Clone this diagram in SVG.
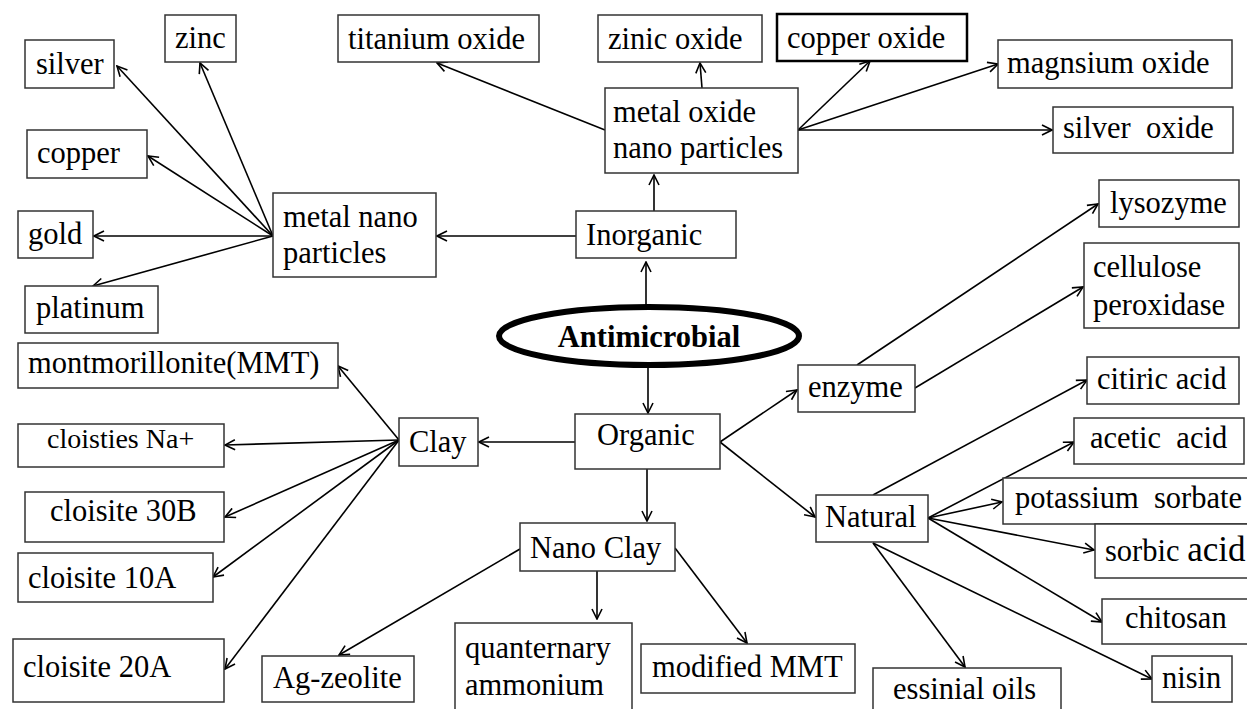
<svg xmlns="http://www.w3.org/2000/svg" width="1247" height="709" viewBox="0 0 1247 709">
<style>
.b{fill:#fff;stroke:#333;stroke-width:1.5}
.bk{fill:#fff;stroke:#000;stroke-width:2.5}
.t{font-family:"Liberation Serif","Times New Roman",serif;font-size:30.5px;fill:#000}
.c line{stroke:#000;stroke-width:1.6;marker-end:url(#ah)}
</style>
<defs>
<marker id="ah" viewBox="0 0 12 12" refX="11" refY="6" markerWidth="12" markerHeight="12" markerUnits="userSpaceOnUse" orient="auto">
<path d="M1,1 L11,6 L1,11" fill="none" stroke="#000" stroke-width="1.6"/>
</marker>
</defs>
<rect width="1247" height="709" fill="#fff"/>
<g id="connectors" class="c">
<line x1="273" y1="236" x2="117" y2="66"/>
<line x1="273" y1="236" x2="200" y2="63"/>
<line x1="273" y1="236" x2="148" y2="156"/>
<line x1="273" y1="236" x2="94" y2="236"/>
<line x1="273" y1="236" x2="93" y2="286"/>
<line x1="576" y1="236" x2="437" y2="236"/>
<line x1="654" y1="211" x2="654" y2="175"/>
<line x1="605" y1="130" x2="437" y2="63"/>
<line x1="702" y1="88" x2="700" y2="63"/>
<line x1="798" y1="130" x2="870" y2="61"/>
<line x1="798" y1="130" x2="998" y2="64"/>
<line x1="798" y1="130" x2="1052" y2="130"/>
<line x1="646" y1="305" x2="646" y2="262"/>
<line x1="648" y1="368" x2="648" y2="413"/>
<line x1="575" y1="442" x2="479" y2="442"/>
<line x1="399" y1="440" x2="338" y2="366"/>
<line x1="399" y1="440" x2="225" y2="445"/>
<line x1="399" y1="440" x2="225" y2="517"/>
<line x1="399" y1="440" x2="213" y2="577"/>
<line x1="399" y1="440" x2="225" y2="669"/>
<line x1="647" y1="469" x2="647" y2="521"/>
<line x1="520" y1="549" x2="339" y2="655"/>
<line x1="597" y1="571" x2="597" y2="619"/>
<line x1="675" y1="548" x2="747" y2="643"/>
<line x1="720" y1="442" x2="797" y2="390"/>
<line x1="720" y1="442" x2="815" y2="517"/>
<line x1="857" y1="365" x2="1098" y2="204"/>
<line x1="915" y1="388" x2="1083" y2="287"/>
<line x1="873" y1="495" x2="1087" y2="380"/>
<line x1="928" y1="518" x2="1074" y2="442"/>
<line x1="928" y1="518" x2="1002" y2="502"/>
<line x1="928" y1="518" x2="1094" y2="550"/>
<line x1="928" y1="518" x2="1102" y2="622"/>
<line x1="873" y1="543" x2="965" y2="667"/>
<line x1="873" y1="543" x2="1152" y2="679"/>
</g>
<g id="silver"><rect class="b" x="25" y="40" width="89" height="48"/><text class="t" x="36" y="74">silver</text></g>
<g id="zinc"><rect class="b" x="165" y="15" width="71" height="47"/><text class="t" x="175" y="48">zinc</text></g>
<g id="copper"><rect class="b" x="27" y="130" width="120" height="48"/><text class="t" x="37" y="163">copper</text></g>
<g id="gold"><rect class="b" x="18" y="211" width="75" height="47"/><text class="t" x="28" y="244">gold</text></g>
<g id="platinum"><rect class="b" x="25" y="286" width="133" height="47"/><text class="t" x="36" y="318">platinum</text></g>
<g id="metal-nano"><rect class="b" x="273" y="193" width="163" height="84"/><text class="t" x="283" y="227">metal nano</text><text class="t" x="283" y="263">particles</text></g>
<g id="titanium-oxide"><rect class="b" x="338" y="15" width="201" height="47"/><text class="t" x="348" y="49">titanium oxide</text></g>
<g id="zinic-oxide"><rect class="b" x="598" y="15" width="164" height="47"/><text class="t" x="608" y="49">zinic oxide</text></g>
<g id="copper-oxide"><rect class="bk" x="777" y="14" width="190" height="47"/><text class="t" x="787" y="48">copper oxide</text></g>
<g id="magnsium-oxide"><rect class="b" x="998" y="40" width="234" height="48"/><text class="t" x="1007" y="73">magnsium oxide</text></g>
<g id="silver-oxide"><rect class="b" x="1053" y="107" width="180" height="46"/><text class="t" x="1063" y="138" xml:space="preserve">silver  oxide</text></g>
<g id="metal-oxide"><rect class="b" x="605" y="88" width="193" height="85"/><text class="t" x="613" y="122">metal oxide</text><text class="t" x="613" y="158">nano particles</text></g>
<g id="inorganic"><rect class="b" x="576" y="211" width="160" height="47"/><text class="t" x="586" y="245">Inorganic</text></g>
<g id="lysozyme"><rect class="b" x="1099" y="180" width="140" height="47"/><text class="t" x="1110" y="213">lysozyme</text></g>
<g id="cellulose"><rect class="b" x="1084" y="243" width="155" height="85"/><text class="t" x="1093" y="277">cellulose</text><text class="t" x="1093" y="315">peroxidase</text></g>
<g id="antimicrobial"><ellipse cx="649" cy="336" rx="150" ry="29" fill="#fff" stroke="#000" stroke-width="6"/><text class="t" x="649" y="347" text-anchor="middle" font-weight="bold">Antimicrobial</text></g>
<g id="mmt"><rect class="b" x="18" y="343" width="320" height="45"/><text class="t" x="28" y="373">montmorillonite(MMT)</text></g>
<g id="na"><rect class="b" x="18" y="424" width="206" height="43"/><text class="t" x="47" y="448" style="font-size:28px">cloisties Na+</text></g>
<g id="c30b"><rect class="b" x="25" y="492" width="199" height="50"/><text class="t" x="50" y="521">cloisite 30B</text></g>
<g id="c10a"><rect class="b" x="18" y="553" width="195" height="49"/><text class="t" x="28" y="588">cloisite 10A</text></g>
<g id="c20a"><rect class="b" x="13" y="639" width="211" height="63"/><text class="t" x="23" y="677">cloisite 20A</text></g>
<g id="clay"><rect class="b" x="399" y="418" width="79" height="48"/><text class="t" x="409" y="452">Clay</text></g>
<g id="organic"><rect class="b" x="575" y="414" width="145" height="55"/><text class="t" x="597" y="445">Organic</text></g>
<g id="enzyme"><rect class="b" x="798" y="365" width="117" height="47"/><text class="t" x="808" y="397">enzyme</text></g>
<g id="natural"><rect class="b" x="816" y="495" width="112" height="47"/><text class="t" x="825" y="527">Natural</text></g>
<g id="citiric"><rect class="b" x="1087" y="357" width="152" height="47"/><text class="t" x="1097" y="389">citiric acid</text></g>
<g id="acetic"><rect class="b" x="1074" y="418" width="170" height="46"/><text class="t" x="1090" y="448" xml:space="preserve">acetic  acid</text></g>
<g id="potassium"><rect class="b" x="1003" y="478" width="260" height="46"/><text class="t" x="1015" y="508" xml:space="preserve">potassium  sorbate</text></g>
<g id="sorbic"><rect class="b" x="1095" y="524" width="170" height="54"/><text class="t" x="1105" y="561">sorbic <tspan style="font-size:35px">acid</tspan></text></g>
<g id="chitosan"><rect class="b" x="1102" y="599" width="160" height="45"/><text class="t" x="1125" y="628">chitosan</text></g>
<g id="nisin"><rect class="b" x="1152" y="656" width="80" height="46"/><text class="t" x="1162" y="688">nisin</text></g>
<g id="essinial"><rect class="b" x="873" y="668" width="188" height="50"/><text class="t" x="893" y="699">essinial oils</text></g>
<g id="modified"><rect class="b" x="641" y="644" width="214" height="49"/><text class="t" x="652" y="677">modified MMT</text></g>
<g id="quanternary"><rect class="b" x="455" y="623" width="177" height="95"/><text class="t" x="465" y="658">quanternary</text><text class="t" x="465" y="695">ammonium</text></g>
<g id="nanoclay"><rect class="b" x="520" y="523" width="155" height="48"/><text class="t" x="530" y="558">Nano Clay</text></g>
<g id="agzeolite"><rect class="b" x="262" y="656" width="152" height="46"/><text class="t" x="273" y="688">Ag-zeolite</text></g>
</svg>
